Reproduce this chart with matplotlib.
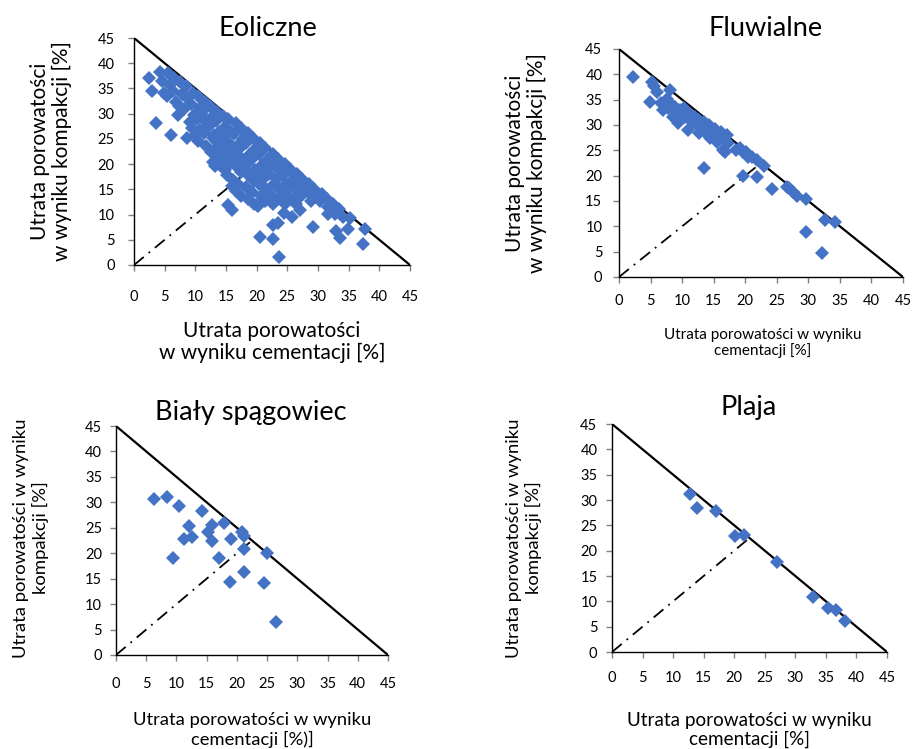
#!/usr/bin/env python
"""
Four scatter panels of porosity loss: compaction vs cementation,
for eolian, fluvial, White Leaf (Biały spągowiec) and playa sandstones.
"""

import matplotlib
matplotlib.use('Agg')
import matplotlib.pyplot as plt

plt.rcParams['font.family'] = ['Lato', 'DejaVu Sans']

W, H = 913, 749
BLUE = '#4472C4'

# (cementation loss, compaction loss) pairs
eoliczne = [
    (2.5, 37.0), (4.2, 38.3), (2.9, 34.4), (3.6, 28.1), (7.1, 29.7), (6.1, 25.8),
    (8.6, 25.1), (9.2, 28.4),
    (4.6, 36.4), (4.9, 34.1),
    (5.5, 38.0), (5.8, 35.6), (5.3, 33.6),
    (6.6, 37.1), (6.4, 34.4), (6.9, 32.4),
    (7.5, 36.2), (7.8, 33.9), (7.3, 31.6),
    (8.4, 35.4), (8.7, 33.1), (8.2, 30.9),
    (9.6, 34.1), (9.3, 32.0), (9.8, 29.8), (9.5, 27.2),
    (10.4, 33.6), (10.7, 31.1), (10.3, 29.0), (10.8, 26.8), (10.5, 24.6),
    (11.6, 32.4), (11.3, 30.6), (11.8, 28.4), (11.4, 26.1), (11.7, 23.6),
    (12.4, 31.6), (12.7, 29.4), (12.3, 27.6), (12.8, 25.1), (12.5, 22.4), (12.9, 20.4),
    (13.6, 30.4), (13.3, 28.6), (13.8, 26.4), (13.4, 24.6), (13.7, 21.9), (13.2, 19.6),
    (14.5, 29.6), (14.8, 27.4), (14.3, 25.6), (14.7, 23.4), (14.4, 21.1), (14.9, 18.9),
    (15.4, 29.0), (15.7, 26.6), (15.3, 24.4), (15.8, 22.6), (15.5, 20.1), (15.2, 17.9),
    (15.9, 15.6),
    (16.6, 28.1), (16.3, 25.9), (16.8, 23.6), (16.4, 21.4), (16.7, 19.6), (16.2, 16.9),
    (16.6, 14.6),
    (17.4, 27.1), (17.7, 24.9), (17.3, 23.1), (17.8, 20.6), (17.5, 18.4), (17.4, 13.6),
    (18.6, 26.1), (18.3, 24.1), (18.8, 21.9), (18.4, 20.1), (18.7, 17.6), (18.3, 15.4),
    (18.6, 13.1),
    (19.4, 25.1), (19.7, 22.9), (19.3, 21.1), (19.8, 18.9), (19.5, 16.6), (19.2, 14.4),
    (19.6, 12.1),
    (20.6, 24.1), (20.3, 22.1), (20.8, 19.9), (20.4, 16.1), (20.7, 13.6), (20.2, 11.6),
    (21.4, 23.1), (21.7, 20.9), (21.3, 19.1), (21.6, 15.1), (21.4, 12.6),
    (22.6, 22.1), (22.3, 19.9), (22.8, 16.1), (22.4, 13.9), (22.7, 12.1),
    (23.4, 21.1), (23.7, 18.9), (23.3, 17.1), (23.8, 14.9), (23.5, 13.1),
    (24.6, 20.1), (24.3, 17.9), (24.8, 16.1), (24.4, 13.9), (24.7, 12.1), (24.5, 10.4),
    (25.4, 19.1), (25.7, 16.9), (25.3, 15.1), (25.8, 12.9),
    (26.6, 18.1), (26.3, 15.9), (26.8, 14.1), (26.4, 12.1),
    (27.4, 17.1), (27.7, 15.4), (27.3, 13.6),
    (28.6, 16.1), (28.3, 14.4), (28.8, 12.6),
    (29.4, 15.1), (29.7, 13.4),
    (30.6, 14.1), (30.3, 12.6),
    (31.4, 13.1), (31.7, 11.4),
    (32.5, 12.1), (33.5, 11.1),
    (15.9, 10.9), (15.3, 11.8), (20.5, 5.6), (22.7, 5.1), (23.7, 1.5), (22.7, 7.9),
    (23.5, 8.3), (25.7, 9.6), (29.2, 7.5), (32.9, 6.8), (33.6, 5.3), (34.9, 7.1),
    (37.7, 7.1), (37.4, 4.1), (32.8, 10.2), (34.1, 9.6), (35.2, 9.3), (31.7, 10.2),
    (20.0, 11.8), (27.0, 11.0),
    (11.0, 30.0), (12.0, 28.5), (13.0, 25.8), (14.0, 24.0), (15.0, 22.0), (16.0, 20.5),
    (17.0, 21.8), (18.0, 19.0), (19.0, 17.8), (20.0, 18.0), (21.0, 17.0), (22.0, 18.0),
    (17.0, 16.0), (13.0, 22.8), (14.0, 19.8), (10.0, 25.8),
]

fluwialne = [
    (2.2, 39.4), (5.2, 38.4), (5.6, 37.6), (6.0, 36.6), (4.9, 34.6), (7.0, 33.0),
    (8.1, 36.9), (7.6, 35.2), (6.6, 34.4), (8.3, 34.2), (7.8, 33.4), (8.8, 33.6),
    (9.0, 32.4), (8.6, 31.6), (9.4, 30.3), (9.6, 33.0), (10.0, 32.2), (10.3, 33.4),
    (10.5, 31.6), (10.8, 32.6), (11.0, 29.0), (11.1, 31.2), (11.4, 32.0), (11.7, 30.6),
    (12.0, 31.6), (12.3, 30.0), (12.6, 28.4), (12.7, 31.0), (13.0, 30.2), (13.2, 29.0),
    (13.5, 30.6), (13.7, 29.4), (14.0, 28.2), (14.2, 30.0), (14.4, 27.4), (14.6, 29.0),
    (14.9, 28.2), (15.2, 29.2), (15.5, 26.7), (15.5, 28.4), (15.8, 27.4), (16.1, 28.6),
    (16.5, 25.1), (16.4, 27.8), (16.8, 27.0), (17.1, 28.0), (17.3, 26.4), (16.8, 24.7),
    (13.4, 21.5), (18.6, 25.1), (19.2, 25.4), (19.6, 24.6), (20.2, 24.7), (20.4, 23.6),
    (21.0, 23.7), (21.8, 23.1), (22.9, 21.9), (19.7, 19.9), (21.8, 19.7), (24.2, 17.3),
    (26.6, 17.8), (27.0, 17.6), (27.6, 16.8), (28.2, 16.0), (29.7, 15.3), (29.7, 8.9),
    (32.6, 11.3), (34.2, 10.8), (32.2, 4.7),
]

bialy = [
    (6.3, 30.6), (8.4, 31.0), (10.4, 29.3), (14.2, 28.2), (17.9, 26.0), (12.0, 25.4),
    (15.8, 25.5), (15.3, 24.2), (11.2, 22.8), (12.5, 23.2), (15.9, 22.5), (19.1, 22.7),
    (20.8, 24.2), (21.1, 23.4), (21.2, 20.8), (24.9, 20.0), (9.5, 19.0), (17.0, 19.1),
    (21.2, 16.4), (18.9, 14.3), (24.5, 14.1), (26.4, 6.5),
]

plaja = [
    (12.8, 31.1), (13.9, 28.4), (17.0, 27.9), (20.2, 22.9), (21.6, 23.1), (27.0, 17.7),
    (32.9, 10.8), (35.4, 8.7), (36.6, 8.3), (38.2, 6.1),
]

TICKS = list(range(0, 50, 5))


def rect(x0, y0, x1, y1):
    """
    Pixel box (left, top, right, bottom) to figure fractions
    """
    return [x0 / W, 1 - y1 / H, (x1 - x0) / W, (y1 - y0) / H]


def text(fig, x, y, s, size, rot=0):
    fig.text(x / W, 1 - y / H, s, fontsize=size, rotation=rot,
             ha='center', va='center', multialignment='center',
             linespacing=1.15)


def panel(fig, box, points, xpad, ypad):
    """
    Draws one scatter panel with its 45 line and the dash-dot line
    """
    ax = fig.add_axes(rect(*box))
    ax.plot([0, 45], [45, 0], color='black', lw=1.6, zorder=2)
    ax.plot([0, 22.5], [0, 22.5], color='black', lw=1.3,
            dashes=[7, 3.5, 1, 3.5], zorder=2)
    xs = [p[0] for p in points]
    ys = [p[1] for p in points]
    ax.plot(xs, ys, 'D', color=BLUE, ms=7.6, mew=0, zorder=3, clip_on=False)

    ax.set_xlim(0, 45)
    ax.set_ylim(0, 45)
    ax.set_xticks(TICKS)
    ax.set_yticks(TICKS)
    for side in ['top', 'right']:
        ax.spines[side].set_visible(False)
    for side in ['left', 'bottom']:
        ax.spines[side].set_color('black')
        ax.spines[side].set_linewidth(1.0)
    ax.tick_params(direction='out', length=4, width=1, color='#808080',
                   labelsize=10.5)
    ax.tick_params(axis='x', pad=xpad)
    ax.tick_params(axis='y', pad=ypad)
    return ax


fig = plt.figure(figsize=(W / 100, H / 100), dpi=100)

# Eoliczne
panel(fig, (134, 38, 410, 265), eoliczne, 14, 10)
text(fig, 268, 28, 'Eoliczne', 19.5)
text(fig, 51, 151, 'Utrata porowatości\nw wyniku kompakcji [%]', 15, 90)
text(fig, 272, 342, 'Utrata porowatości\nw wyniku cementacji [%]', 15)

# Fluwialne
panel(fig, (619, 49, 903, 277), fluwialne, 8, 8)
text(fig, 766, 28, 'Fluwialne', 19.5)
text(fig, 526, 163, 'Utrata porowatości\nw wyniku kompakcji [%]', 15, 90)
text(fig, 763, 343, 'Utrata porowatości w wyniku\ncementacji [%]', 11)

# Biały spągowiec
panel(fig, (116, 426, 388, 655), bialy, 12, 6)
text(fig, 251, 413, 'Biały spągowiec', 19.5)
text(fig, 31, 538, 'Utrata porowatości w wyniku\nkompakcji [%]', 13.3, 90)
text(fig, 252, 730, 'Utrata porowatości w wyniku\ncementacji [%)]', 13.2)

# Plaja
panel(fig, (612, 424, 887, 652), plaja, 10, 6.5)
text(fig, 749, 408, 'Plaja', 19.5)
text(fig, 524, 538, 'Utrata porowatości w wyniku\nkompakcji [%]', 13.3, 90)
text(fig, 749, 730, 'Utrata porowatości w wyniku\ncementacji [%]', 13.6)

fig.savefig('out.png', dpi=100)
